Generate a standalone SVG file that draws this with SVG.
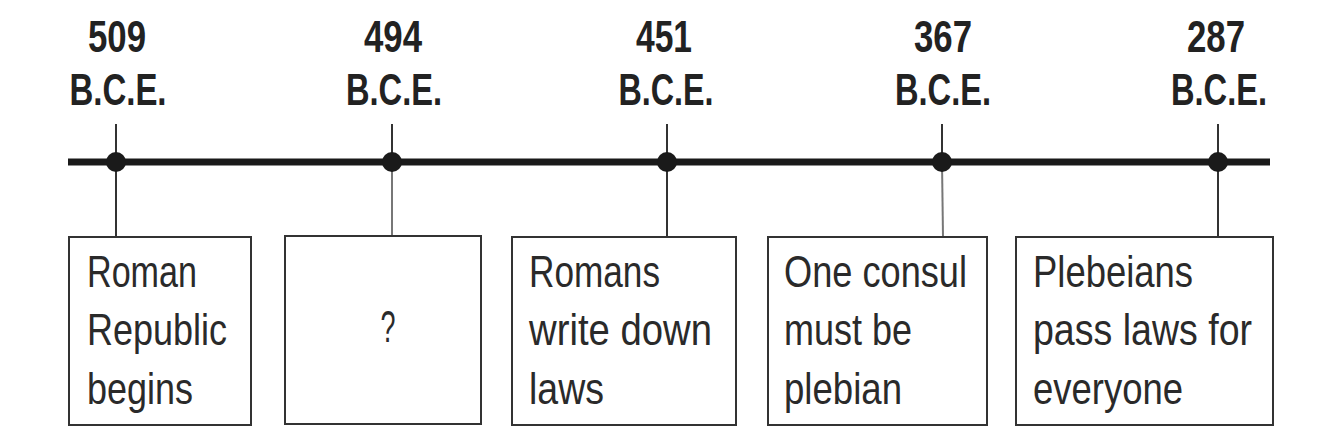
<svg xmlns="http://www.w3.org/2000/svg" width="1326" height="446" viewBox="0 0 1326 446">
<style>
.date{font-family:"Liberation Sans Narrow","Liberation Sans",Arial,sans-serif;font-weight:bold;font-size:44px;fill:#222;text-anchor:middle}
.lbl{font-family:"Liberation Sans Narrow","Liberation Sans",Arial,sans-serif;font-size:44px;fill:#2a2a2a}
.box{fill:#fff;stroke:#333;stroke-width:2}
.tick{stroke:#333;stroke-width:2}
.tick2{stroke:#777;stroke-width:2}
.dot{fill:#1a1a1a}
</style>
<rect width="1326" height="446" fill="#fff"/>
<g id="connectors">
<line x1="68" y1="162" x2="1270" y2="162" stroke="#1a1a1a" stroke-width="7"/>
<line class="tick" x1="116" y1="124" x2="116" y2="237"/>
<line class="tick" x1="392" y1="124" x2="392" y2="162"/>
<line class="tick2" x1="392" y1="162" x2="392" y2="236"/>
<line class="tick" x1="667" y1="124" x2="667" y2="237"/>
<line class="tick" x1="942" y1="124" x2="942" y2="162"/>
<line class="tick2" x1="942" y1="162" x2="943" y2="237"/>
<line class="tick" x1="1218" y1="124" x2="1218" y2="239"/>
</g>
<g id="d509">
<text class="date" x="117" y="52" textLength="58" lengthAdjust="spacingAndGlyphs">509</text>
<text class="date" x="118" y="105" textLength="97" lengthAdjust="spacingAndGlyphs">B.C.E.</text>
<circle class="dot" cx="116" cy="162" r="10"/>
</g>
<g id="d494">
<text class="date" x="393" y="52" textLength="58" lengthAdjust="spacingAndGlyphs">494</text>
<text class="date" x="394" y="105" textLength="96" lengthAdjust="spacingAndGlyphs">B.C.E.</text>
<circle class="dot" cx="392" cy="162" r="10"/>
</g>
<g id="d451">
<text class="date" x="664" y="52" textLength="56" lengthAdjust="spacingAndGlyphs">451</text>
<text class="date" x="666" y="105" textLength="95" lengthAdjust="spacingAndGlyphs">B.C.E.</text>
<circle class="dot" cx="667" cy="162" r="10"/>
</g>
<g id="d367">
<text class="date" x="943" y="52" textLength="58" lengthAdjust="spacingAndGlyphs">367</text>
<text class="date" x="943" y="105" textLength="96" lengthAdjust="spacingAndGlyphs">B.C.E.</text>
<circle class="dot" cx="942" cy="162" r="10"/>
</g>
<g id="d287">
<text class="date" x="1216" y="52" textLength="58" lengthAdjust="spacingAndGlyphs">287</text>
<text class="date" x="1219" y="105" textLength="96" lengthAdjust="spacingAndGlyphs">B.C.E.</text>
<circle class="dot" cx="1218" cy="162" r="10"/>
</g>
<g id="box1">
<rect class="box" x="69" y="237" width="182" height="188"/>
<text class="lbl" x="87" y="287" textLength="110" lengthAdjust="spacingAndGlyphs">Roman</text>
<text class="lbl" x="87" y="345" textLength="140" lengthAdjust="spacingAndGlyphs">Republic</text>
<text class="lbl" x="87" y="404" textLength="106" lengthAdjust="spacingAndGlyphs">begins</text>
</g>
<g id="box2">
<rect class="box" x="285" y="236" width="196" height="188"/>
<text class="lbl" x="388" y="342" text-anchor="middle" textLength="15" lengthAdjust="spacingAndGlyphs">?</text>
</g>
<g id="box3">
<rect class="box" x="512" y="237" width="224" height="188"/>
<text class="lbl" x="529" y="287" textLength="131" lengthAdjust="spacingAndGlyphs">Romans</text>
<text class="lbl" x="529" y="345" textLength="183" lengthAdjust="spacingAndGlyphs">write down</text>
<text class="lbl" x="529" y="404" textLength="75" lengthAdjust="spacingAndGlyphs">laws</text>
</g>
<g id="box4">
<rect class="box" x="768" y="237" width="219" height="188"/>
<text class="lbl" x="784" y="287" textLength="183" lengthAdjust="spacingAndGlyphs">One consul</text>
<text class="lbl" x="784" y="345" textLength="128" lengthAdjust="spacingAndGlyphs">must be</text>
<text class="lbl" x="784" y="404" textLength="118" lengthAdjust="spacingAndGlyphs">plebian</text>
</g>
<g id="box5">
<rect class="box" x="1016" y="237" width="257" height="188"/>
<text class="lbl" x="1033" y="287" textLength="160" lengthAdjust="spacingAndGlyphs">Plebeians</text>
<text class="lbl" x="1033" y="345" textLength="219" lengthAdjust="spacingAndGlyphs">pass laws for</text>
<text class="lbl" x="1033" y="404" textLength="150" lengthAdjust="spacingAndGlyphs">everyone</text>
</g>
</svg>
